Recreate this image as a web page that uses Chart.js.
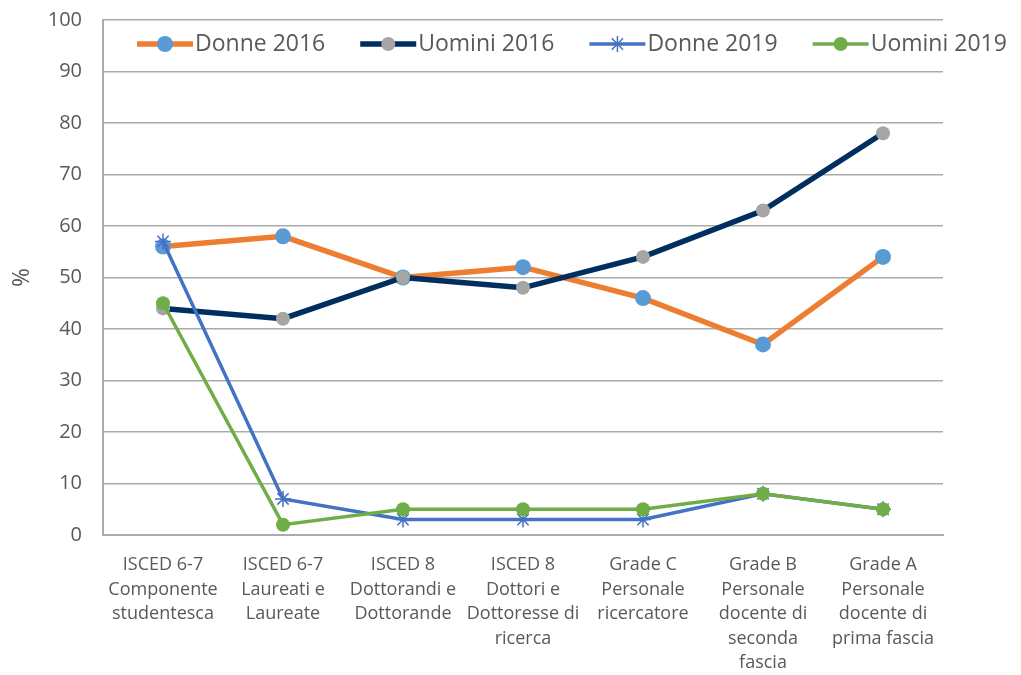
<!DOCTYPE html>
<html>
<head>
<meta charset="utf-8">
<script src="https://cdn.jsdelivr.net/npm/chart.js@4"></script>
<style>
  html, body { margin: 0; padding: 0; background: #fff; }
  #wrap { width: 1021px; height: 675px; }
</style>
</head>
<body>
<div id="wrap"><canvas id="c" width="1021" height="675"></canvas></div>
<script>
const categories = [
  ["ISCED 6-7", "Componente", "studentesca"],
  ["ISCED 6-7", "Laureati e", "Laureate"],
  ["ISCED 8", "Dottorandi e", "Dottorande"],
  ["ISCED 8", "Dottori e", "Dottoresse di", "ricerca"],
  ["Grade C", "Personale", "ricercatore"],
  ["Grade B", "Personale", "docente di", "seconda", "fascia"],
  ["Grade A", "Personale", "docente di", "prima fascia"]
];
const seriesNames = ["Donne 2016", "Uomini 2016", "Donne 2019", "Uomini 2019"];
const donne2016 = [56, 58, 50, 52, 46, 37, 54];
const uomini2016 = [44, 42, 50, 48, 54, 63, 78];
const donne2019 = [57, 7, 3, 3, 3, 8, 5];
const uomini2019 = [45, 2, 5, 5, 5, 8, 5];
const yTicks = [0, 10, 20, 30, 40, 50, 60, 70, 80, 90, 100];

const FONT = '"Open Sans", "DejaVu Sans", sans-serif';
const TEXT = '#595959';
const GRID = '#ABABAB';

const styles = [
  { line: '#ED7D31', point: '#5B9BD5', style: 'circle', radius: 8, width: 5.5 },
  { line: '#002E5F', point: '#A5A5A5', style: 'circle', radius: 7, width: 5.5 },
  { line: '#4472C4', point: '#4472C4', style: 'star', radius: 8, width: 3.5 },
  { line: '#70AD47', point: '#70AD47', style: 'circle', radius: 7, width: 3.5 }
];
const values = [donne2016, uomini2016, donne2019, uomini2019];

const datasets = values.map((v, i) => ({
  label: seriesNames[i],
  data: v,
  borderColor: styles[i].line,
  borderWidth: styles[i].width,
  backgroundColor: styles[i].point,
  pointBackgroundColor: styles[i].point,
  pointBorderColor: styles[i].point,
  pointBorderWidth: styles[i].style === 'star' ? 1.5 : 0,
  pointStyle: styles[i].style,
  pointRadius: styles[i].radius,
  pointHoverRadius: styles[i].radius,
  tension: 0,
  order: values.length - i
}));

// custom legend: line with marker, then text
const legendPlugin = {
  id: 'excelLegend',
  afterDatasetsDraw(chart) {
    const ctx = chart.ctx;
    const area = chart.chartArea;
    const y = area.top + 24;
    let x = area.left + 34;
    const lineLen = 56;
    ctx.save();
    ctx.font = '23px ' + FONT;
    ctx.textBaseline = 'middle';
    ctx.textAlign = 'left';
    seriesNames.forEach((name, i) => {
      const s = styles[i];
      ctx.strokeStyle = s.line;
      ctx.lineWidth = s.width;
      ctx.lineCap = 'butt';
      ctx.beginPath();
      ctx.moveTo(x, y);
      ctx.lineTo(x + lineLen, y);
      ctx.stroke();
      const cx = x + lineLen / 2;
      if (s.style === 'circle') {
        ctx.fillStyle = s.point;
        ctx.beginPath();
        ctx.arc(cx, y, s.radius, 0, Math.PI * 2);
        ctx.fill();
      } else {
        ctx.strokeStyle = s.point;
        ctx.lineWidth = 1.5;
        ctx.beginPath();
        const r = s.radius;
        for (let k = 0; k < 4; k++) {
          const a = k * Math.PI / 4;
          ctx.moveTo(cx - Math.sin(a) * r, y - Math.cos(a) * r);
          ctx.lineTo(cx + Math.sin(a) * r, y + Math.cos(a) * r);
        }
        ctx.stroke();
      }
      x += lineLen + 2;
      ctx.fillStyle = TEXT;
      ctx.fillText(name, x, y);
      x += ctx.measureText(name).width + 35;
    });
    ctx.restore();
  }
};

new Chart(document.getElementById('c'), {
  type: 'line',
  data: { labels: categories, datasets },
  options: {
    responsive: false,
    animation: false,
    layout: { padding: { top: 20, right: 78, left: 0, bottom: 0 } },
    plugins: {
      legend: { display: false },
      tooltip: { enabled: false }
    },
    scales: {
      x: {
        offset: true,
        grid: { display: false, drawTicks: false },
        border: { display: true, color: GRID, width: 2 },
        ticks: {
          color: TEXT,
          font: { family: FONT, size: 18, lineHeight: 1.36 },
          padding: 18,
          maxRotation: 0,
          autoSkip: false
        },
        afterFit(scale) { scale.height = 140; }
      },
      y: {
        min: 0, max: 100,
        afterBuildTicks(scale) { scale.ticks = yTicks.map(v => ({ value: v })); },
        grid: { color: GRID, lineWidth: 1.5, drawTicks: true, tickLength: 18, tickColor: 'rgba(0,0,0,0)' },
        border: { display: true, color: GRID, width: 2 },
        ticks: {
          color: TEXT,
          font: { family: FONT, size: 20 },
          padding: 3
        },
        title: {
          display: true,
          text: '%',
          color: TEXT,
          font: { family: FONT, size: 23 },
          padding: { top: 9, bottom: 0 }
        },
        afterFit(scale) { scale.width = 103; }
      }
    }
  },
  plugins: [legendPlugin]
});
</script>
</body>
</html>
